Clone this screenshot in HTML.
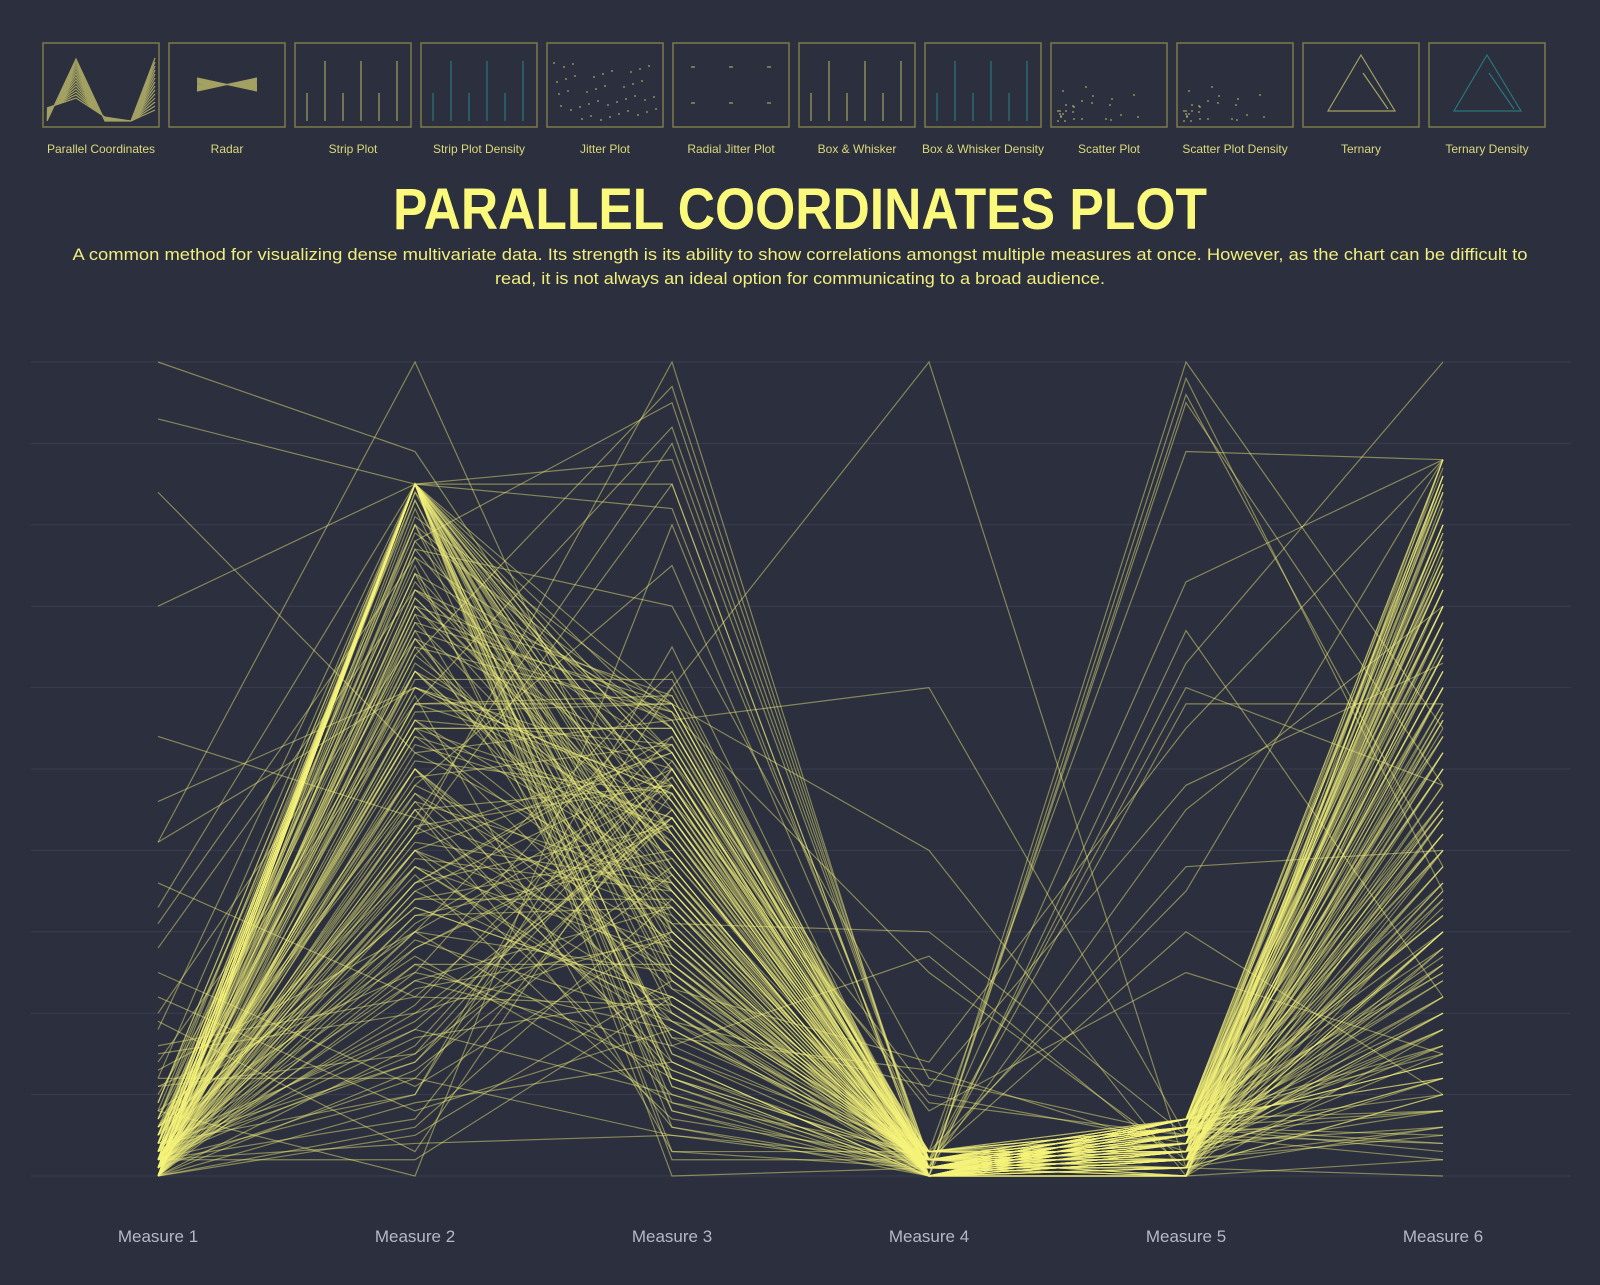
<!DOCTYPE html>
<html><head><meta charset="utf-8">
<style>
html,body{margin:0;padding:0;background:#2b2f3e;}
body{width:1600px;height:1280px;overflow:hidden;font-family:"Liberation Sans",sans-serif;}
</style></head>
<body>
<svg id="chart" width="1600" height="1280" xmlns="http://www.w3.org/2000/svg">
  <rect x="0" y="0" width="1600" height="1280" fill="#2b2f3e"/>
  <g id="thumbs"></g>
  <text x="800" y="229" text-anchor="middle" font-family="Liberation Sans, sans-serif" font-weight="bold" font-size="58" fill="#fbf97c" textLength="814" lengthAdjust="spacingAndGlyphs">PARALLEL COORDINATES PLOT</text>
  <text x="800" y="260" text-anchor="middle" font-family="Liberation Sans, sans-serif" font-size="17" fill="#f0ee7c" textLength="1455" lengthAdjust="spacingAndGlyphs">A common method for visualizing dense multivariate data. Its strength is its ability to show correlations amongst multiple measures at once. However, as the chart can be difficult to</text>
  <text x="800" y="284" text-anchor="middle" font-family="Liberation Sans, sans-serif" font-size="17" fill="#f0ee7c" textLength="610" lengthAdjust="spacingAndGlyphs">read, it is not always an ideal option for communicating to a broad audience.</text>
  <g id="grid"></g>
  <g id="lines"></g>
  <g id="labels"></g>
</svg>
<script>
const measures = ["Measure 1","Measure 2","Measure 3","Measure 4","Measure 5","Measure 6"];
const gridTicks = [0,10,20,30,40,50,60,70,80,90,100];
const thumbLabels = ["Parallel Coordinates","Radar","Strip Plot","Strip Plot Density","Jitter Plot","Radial Jitter Plot","Box & Whisker","Box & Whisker Density","Scatter Plot","Scatter Plot Density","Ternary","Ternary Density"];
const m1 = [2,5,1,0,3,8,4,1,12,2, 6,0,3,1,9,2,100,4,1,7, 0,3,15,2,5,1,0,22,3,2, 41,1,6,0,4,2,11,1,3,84, 0,5,2,1,7,3,18,0,2,4, 1,36,0,3,6,2,1,10,0,4, 2,54,1,3,0,5,8,2,1,28, 0,3,14,1,2,6,0,4,93,1, 2,3,0,41,5,1,2,7,0,33, 3,1,20,4,0,2,70,1,3,13,
 1,0,3,2,5,1,0,4,2,7, 0,1,3,9,2,0,6,1,4,2, 0,11,1,3,0,2,5,1,8,0, 2,1,4,0,3,16,1,0,2,6, 1,0,3,2,12,0,1,4,2,0, 5,1,0,3,2,25,1,0,4,2, 0,3,1,7,0,2,19,1,0,3, 2,0,4,1,6,0,2,31,1,0, 3,1,0,2,5,0,9,1,2,0, 4,0,1,3,2,46,0,1,5,2];
const m2 = [85,62,85,40,78,30,85,55,12,85, 47,85,70,25,85,58,89,84,35,66, 85,50,20,85,74,42,85,8,60,85, 100,85,33,68,85,45,15,80,85,52, 85,28,76,85,38,64,85,5,56,85, 82,22,85,48,71,85,36,62,85,18, 85,44,85,65,26,85,0,54,85,72, 32,85,58,85,10,46,85,69,85,40, 85,24,85,60,77,85,34,85,50,85, 14,85,66,85,42,2,85,56,85,30,
 70,35,55,20,80,45,62,10,50,75, 28,66,40,85,15,58,33,72,48,4, 60,25,78,38,52,18,68,43,83,30, 56,12,74,36,64,22,81,47,7,59, 39,70,26,53,85,16,44,67,31,77, 50,21,63,37,84,11,57,29,73,42, 65,19,46,79,34,55,3,71,24,61, 41,83,14,54,27,69,36,76,49,9, 62,32,58,17,74,45,80,23,51,38, 67,13,43,85,30,60,6,72,40,55];
const m3 = [45,30,52,10,95,25,40,55,5,38, 20,48,35,60,15,92,42,28,50,33, 82,12,44,26,56,100,36,18,47,3, 30,85,22,58,40,14,50,27,88,35, 8,43,55,31,19,97,46,24,53,37, 16,49,29,75,41,11,54,34,0,45, 21,90,38,57,13,32,80,44,26,52, 39,6,48,23,65,36,50,17,42,28, 55,33,9,47,70,25,40,58,19,35, 44,2,51,30,85,22,46,37,12,48,
 40,20,55,30,12,48,35,60,25,8, 44,28,52,15,38,58,22,46,33,5, 50,18,42,27,56,10,36,48,24,62, 31,45,14,53,39,21,57,29,47,3, 35,59,26,43,11,51,32,17,49,38, 23,54,41,7,46,30,58,19,37,52, 28,44,13,55,34,24,50,40,16,61, 36,20,48,31,9,57,43,26,53,14, 45,33,59,22,40,6,52,29,47,18, 56,37,25,50,12,42,34,58,21,44];
const m4 = [0,1,2,0,1,3,0,2,1,0, 2,1,0,100,1,2,0,3,1,0, 1,0,2,1,60,0,1,2,0,3, 1,0,2,40,1,0,3,1,2,0, 0,2,1,30,0,1,2,0,3,1, 27,1,0,2,1,0,3,2,1,0, 1,2,0,25,1,0,2,1,3,0, 2,0,1,14,0,2,1,13,0,1, 1,3,0,2,12,1,0,2,11,1, 0,2,10,1,0,3,9,1,2,8,
 1,0,2,1,0,3,1,2,0,1, 2,0,1,3,0,1,2,0,1,2, 0,1,3,0,2,1,0,2,1,0, 1,2,0,1,3,0,2,1,0,1, 0,2,1,0,1,2,0,3,1,0, 2,1,0,2,1,0,1,3,0,2, 1,0,2,1,0,3,1,0,2,1, 0,1,2,0,3,1,0,2,1,0, 2,0,1,3,0,1,2,0,1,2, 0,3,1,0,2,1,0,1,2,0];
const m5 = [3,5,1,98,6,2,4,0,7,3, 5,2,6,1,100,4,3,7,2,0, 6,4,73,2,5,1,7,3,95,4, 2,6,3,0,5,67,4,1,6,3, 7,2,58,5,0,4,6,2,89,3, 1,5,7,3,45,2,6,4,0,5, 63,3,6,2,7,4,38,1,5,3, 6,0,4,55,2,7,5,3,96,1, 4,6,2,30,5,3,7,0,48,6, 2,60,4,7,1,35,5,3,6,25,
 4,6,2,7,1,5,3,6,0,7, 2,5,7,3,6,1,4,7,2,5, 6,0,3,7,4,2,6,5,1,7, 3,6,2,5,7,0,4,6,3,7, 1,5,6,2,7,4,0,6,3,5, 7,2,4,6,1,7,5,3,6,0, 4,7,2,5,6,3,7,1,4,6, 5,0,7,3,6,2,5,7,4,1, 6,3,7,2,5,0,6,4,7,3, 2,6,5,7,1,4,3,6,7,2];
const m6 = [60,20,85,35,72,5,50,88,15,40, 65,28,78,10,55,82,30,45,70,2, 25,62,88,38,8,57,75,18,48,80, 12,68,33,86,52,22,74,0,42,64, 84,30,58,16,77,44,66,6,88,36, 54,24,80,12,70,46,3,62,86,34, 100,20,75,50,8,68,40,83,27,57, 14,72,45,88,30,60,4,79,38,66, 22,85,52,10,74,42,87,18,63,32, 80,48,6,70,26,88,56,35,76,15,
 45,70,15,82,30,58,8,66,40,76, 20,88,52,12,64,35,80,25,48,72, 5,60,42,85,18,55,32,78,10,68, 38,86,22,50,74,28,62,14,84,46, 56,2,70,36,88,24,44,79,16,60, 30,75,48,10,66,40,86,20,54,34, 80,12,58,42,72,26,88,6,50,64, 18,82,36,62,14,76,46,28,70,52, 8,84,32,56,22,68,40,78,12,60, 44,26,86,16,64,38,74,4,54,30];

const NS = "http://www.w3.org/2000/svg";
const series = [m1,m2,m3,m4,m5,m6];
const axisLeft = 158, axisStep = 257, yTop = 362, yBottom = 1176;
function xPos(i){ return axisLeft + i*axisStep; }
function yPos(v){ return yBottom - (v/100)*(yBottom-yTop); }

const grid = document.getElementById('grid');
gridTicks.forEach(t=>{
  const l = document.createElementNS(NS,'line');
  l.setAttribute('x1',31); l.setAttribute('x2',1571);
  l.setAttribute('y1',yPos(t)); l.setAttribute('y2',yPos(t));
  l.setAttribute('stroke','#3a3e4f'); l.setAttribute('stroke-width','1');
  
  
  grid.appendChild(l);
});

const lg = document.getElementById('lines');
const n = Math.min(...series.map(s=>s.length));
for(let r=0;r<n;r++){
  const pts = series.map((s,i)=>xPos(i)+','+yPos(s[r])).join(' ');
  const p = document.createElementNS(NS,'polyline');
  p.setAttribute('points',pts);
  p.setAttribute('fill','none');
  p.setAttribute('stroke','#f7f57a');
  p.setAttribute('stroke-opacity','0.45');
  p.setAttribute('stroke-width','1.2');
  
  
  lg.appendChild(p);
}

const lab = document.getElementById('labels');
measures.forEach((m,i)=>{
  const t = document.createElementNS(NS,'text');
  t.setAttribute('x',xPos(i)); t.setAttribute('y',1242);
  t.setAttribute('text-anchor','middle');
  t.setAttribute('font-family','Liberation Sans, sans-serif');
  t.setAttribute('font-size','17');
  t.setAttribute('fill','#b6b9c5');
  t.textContent = m;
  
  
  lab.appendChild(t);
});

const th = document.getElementById('thumbs');
thumbLabels.forEach((name,i)=>{
  const x = 43 + i*126, y = 43, w = 116, h = 84;
  const g = document.createElementNS(NS,'g');
  
  
  g.style.cursor='pointer';
  const r = document.createElementNS(NS,'rect');
  r.setAttribute('x',x); r.setAttribute('y',y); r.setAttribute('width',w); r.setAttribute('height',h);
  r.setAttribute('fill','#2b2f3e'); r.setAttribute('stroke','#7c7b4d'); r.setAttribute('stroke-width','1.5');
  g.appendChild(r);
  const c = document.createElementNS(NS,'path');
  let d='';
  if(i===0){ for(let k=0;k<14;k++){ d+=`M${x+4} ${y+78-k} L${x+33} ${y+16+k*3} L${x+62} ${y+78-k*0.3} L${x+88} ${y+78} L${x+112} ${y+15+k*4} `; } }
  else if(i===1){ for(let k=0;k<8;k++){ d+=`M${x+28} ${y+35+k} L${x+88} ${y+48-k} M${x+28} ${y+48-k} L${x+88} ${y+35+k} `; } }
  else if(i===2||i===3||i===6||i===7){ for(let k=0;k<6;k++){ const xx=x+12+k*18; d+=`M${xx} ${y+(k%2?18:50)} L${xx} ${y+78} `; } }
  else if(i===4){ for(let k=0;k<40;k++){ const xx=x+6+((k*37)%104), yy=y+20+((k*53)%58); d+=`M${xx} ${yy} h2 `; } }
  else if(i===5){ for(let k=0;k<6;k++){ const cx=x+20+(k%3)*38, cy=y+24+Math.floor(k/3)*36; d+=`M${cx-2} ${cy} h4 `; } }
  else if(i===8||i===9){ for(let k=0;k<30;k++){ const xx=x+6+((k*k*7)%(20+k*3)), yy=y+78-((k*11)%(10+k)); d+=`M${xx} ${yy} h2 `; } }
  else { d+=`M${x+25} ${y+68} L${x+58} ${y+12} L${x+92} ${y+68} Z M${x+60} ${y+30} L${x+85} ${y+66} `; }
  c.setAttribute('d',d);
  c.setAttribute('fill','none');
  c.setAttribute('stroke', (i===3||i===7||i===11)?'#2aa6a6':'#f2ef7a');
  c.setAttribute('stroke-opacity','0.6');
  c.setAttribute('stroke-width','1.2');
  g.appendChild(c);
  const t = document.createElementNS(NS,'text');
  t.setAttribute('x',x+w/2); t.setAttribute('y',153);
  t.setAttribute('text-anchor','middle');
  t.setAttribute('font-family','Liberation Sans, sans-serif');
  t.setAttribute('font-size','12');
  t.setAttribute('fill','#dcd97a');
  t.textContent = name;
  g.appendChild(t);
  th.appendChild(g);
});
</script>
</body></html>
